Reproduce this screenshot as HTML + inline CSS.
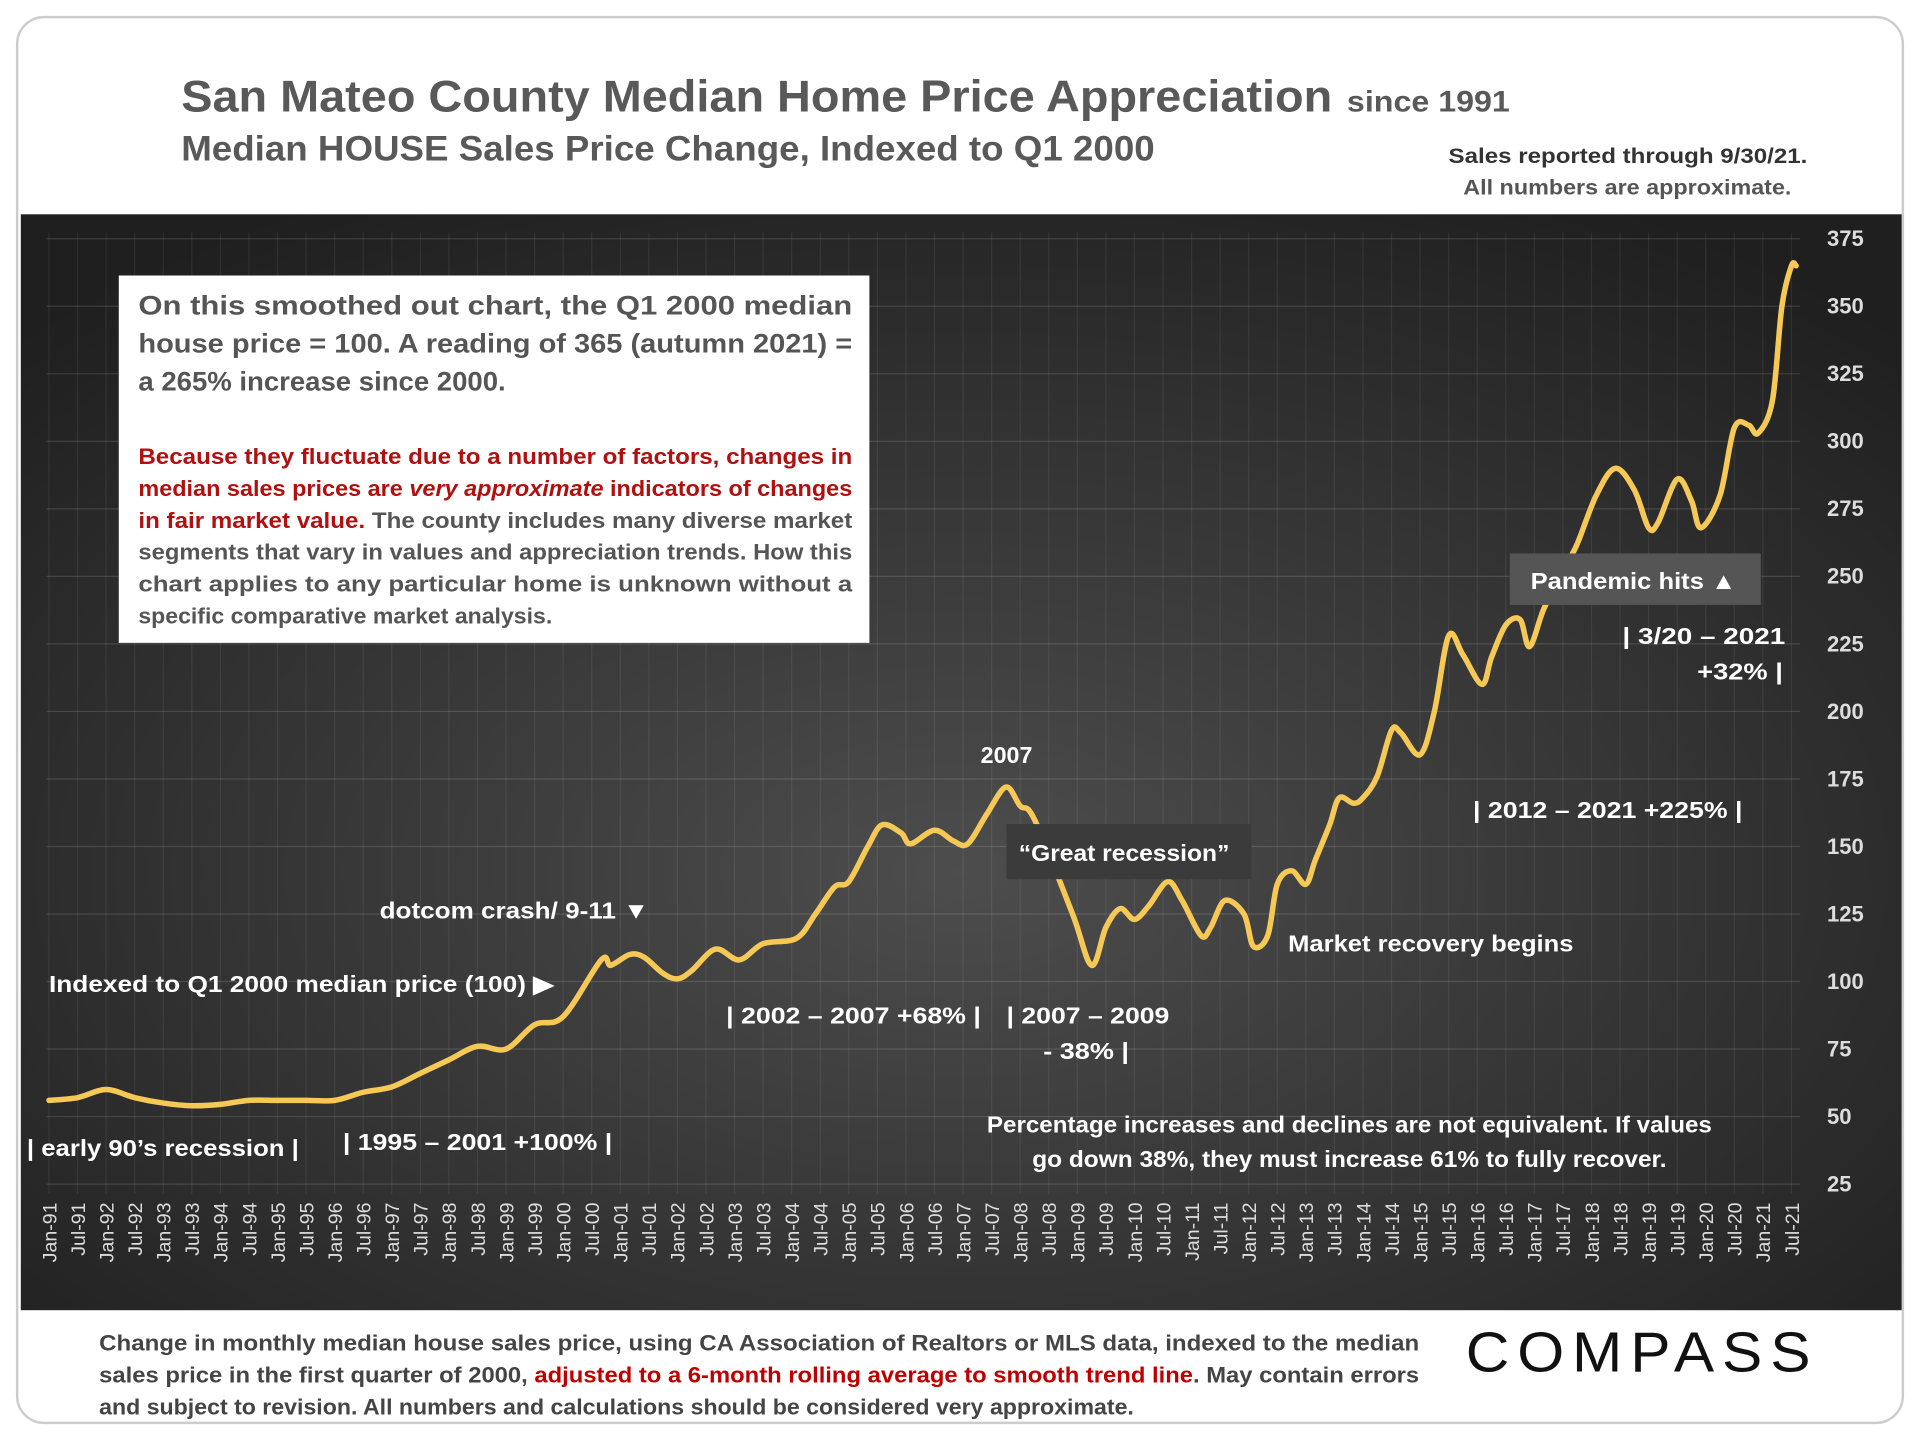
<!DOCTYPE html>
<html><head><meta charset="utf-8"><style>
html,body{margin:0;padding:0;background:#fff;}
svg{display:block;}
text{font-family:"Liberation Sans",sans-serif;font-weight:bold;}
</style></head><body>
<svg id="chart" width="1920" height="1440" viewBox="0 0 1568 1176" xmlns="http://www.w3.org/2000/svg">
<defs>
<radialGradient id="bg" cx="0.5" cy="0.6" r="0.7">
<stop offset="0" stop-color="#4d4d4d"/><stop offset="1" stop-color="#1f1f1f"/>
</radialGradient>
</defs>
<rect x="14" y="14" width="1540" height="1148" rx="22" fill="#fff" stroke="#ccc" stroke-width="2"/>
<text x="148" y="91" font-size="36" fill="#595959" textLength="940" lengthAdjust="spacingAndGlyphs">San Mateo County Median Home Price Appreciation</text>
<text x="1100" y="91" font-size="24" fill="#595959" textLength="133" lengthAdjust="spacingAndGlyphs">since 1991</text>
<text x="148" y="131" font-size="29" fill="#595959" textLength="795" lengthAdjust="spacingAndGlyphs">Median HOUSE Sales Price Change, Indexed to Q1 2000</text>
<text x="1476" y="133" font-size="17" fill="#333" text-anchor="end" textLength="293" lengthAdjust="spacingAndGlyphs">Sales reported through 9/30/21.</text>
<text x="1463" y="159" font-size="17" fill="#555" text-anchor="end" textLength="268" lengthAdjust="spacingAndGlyphs">All numbers are approximate.</text>
<rect x="17" y="175" width="1536" height="895" fill="url(#bg)"/>
<g id="grid"></g>
<g id="xlabels"></g>
<g id="ylabels"></g>
<path id="line" fill="none" stroke="#f6c957" stroke-width="4.5" stroke-linejoin="round" stroke-linecap="round"/>

<rect x="97" y="225" width="613" height="300" fill="#fff"/>
<g font-size="22" fill="#555">
<text x="113" y="257" textLength="583" lengthAdjust="spacingAndGlyphs">On this smoothed out chart, the Q1 2000 median</text>
<text x="113" y="288" textLength="583" lengthAdjust="spacingAndGlyphs">house price = 100. A reading of 365 (autumn 2021) =</text>
<text x="113" y="319" textLength="300" lengthAdjust="spacingAndGlyphs">a 265% increase since 2000.</text>
</g>
<g font-size="18">
<text x="113" y="379" fill="#b01010" textLength="583" lengthAdjust="spacingAndGlyphs">Because they fluctuate due to a number of factors, changes in</text>
<text x="113" y="405" fill="#b01010" textLength="583" lengthAdjust="spacingAndGlyphs">median sales prices are <tspan font-style="italic">very approximate</tspan> indicators of changes</text>
<text x="113" y="431" fill="#b01010" textLength="583" lengthAdjust="spacingAndGlyphs">in fair market value. <tspan fill="#555">The county includes many diverse market</tspan></text>
<text x="113" y="457" fill="#555" textLength="583" lengthAdjust="spacingAndGlyphs">segments that vary in values and appreciation trends. How this</text>
<text x="113" y="483" fill="#555" textLength="583" lengthAdjust="spacingAndGlyphs">chart applies to any particular home is unknown without a</text>
<text x="113" y="509" fill="#555" textLength="338" lengthAdjust="spacingAndGlyphs">specific comparative market analysis.</text>
</g>

<rect x="822" y="673" width="200" height="45" fill="#3b3b3b"/>
<rect x="1233" y="452" width="205" height="42" fill="#555"/>
<g font-size="19" fill="#fff">
<text x="918" y="703" text-anchor="middle" textLength="172" lengthAdjust="spacingAndGlyphs">“Great recession”</text>
<text x="1250" y="481" textLength="168" lengthAdjust="spacingAndGlyphs">Pandemic hits ▲</text>
<text x="822" y="623" text-anchor="middle">2007</text>
<text x="310" y="750" textLength="220" lengthAdjust="spacingAndGlyphs">dotcom crash/ 9-11 ▼</text>
<text x="40" y="810" textLength="412" lengthAdjust="spacingAndGlyphs">Indexed to Q1 2000 median price (100) ▶</text>
<text x="22" y="944" textLength="222" lengthAdjust="spacingAndGlyphs">| early 90’s recession |</text>
<text x="280" y="939" textLength="220" lengthAdjust="spacingAndGlyphs">| 1995 – 2001 +100% |</text>
<text x="593" y="836" textLength="208" lengthAdjust="spacingAndGlyphs">| 2002 – 2007 +68% |</text>
<text x="822" y="836" textLength="133" lengthAdjust="spacingAndGlyphs">| 2007 – 2009</text>
<text x="852" y="865" textLength="70" lengthAdjust="spacingAndGlyphs">- 38% |</text>
<text x="1052" y="777" textLength="233" lengthAdjust="spacingAndGlyphs">Market recovery begins</text>
<text x="1203" y="668" textLength="220" lengthAdjust="spacingAndGlyphs">| 2012 – 2021 +225% |</text>
<text x="1325" y="526" textLength="133" lengthAdjust="spacingAndGlyphs">| 3/20 – 2021</text>
<text x="1386" y="555" textLength="70" lengthAdjust="spacingAndGlyphs">+32% |</text>
<text x="1102" y="925" text-anchor="middle" textLength="592" lengthAdjust="spacingAndGlyphs">Percentage increases and declines are not equivalent. If values</text>
<text x="1102" y="953" text-anchor="middle" textLength="518" lengthAdjust="spacingAndGlyphs">go down 38%, they must increase 61% to fully recover.</text>
</g>

<g font-size="18" fill="#444">
<text x="81" y="1103" textLength="1078" lengthAdjust="spacingAndGlyphs">Change in monthly median house sales price, using CA Association of Realtors or MLS data, indexed to the median</text>
<text x="81" y="1129" textLength="1078" lengthAdjust="spacingAndGlyphs">sales price in the first quarter of 2000, <tspan fill="#c00000">adjusted to a 6-month rolling average to smooth trend line</tspan>.  May contain errors</text>
<text x="81" y="1155" textLength="845" lengthAdjust="spacingAndGlyphs">and subject to revision. All numbers and calculations should be considered very approximate.</text>
</g>
<text x="1197" y="1120" font-size="46" fill="#111" font-weight="normal" textLength="288" lengthAdjust="spacingAndGlyphs" style="font-weight:normal;letter-spacing:6px">COMPASS</text>
</svg>
<script>
const months = [0,6,12,18,24,30,36,42,48,54,60,66,72,78,84,90,96,102,108,116,118,122,125,129,132,135,140,145,150,157,161,165,168,172,175,179,181,186,190,193,197,201,204,207,215,219,222,225,228,231,235,238,242,244,247,251,253,256,258,261,264,266,269,271,274,276,279,282,284,288,291,294,297,301,303,306,309,311,314,318,321,325,329,333,336,338,342,345,347,351,354,357,359,362,364,366,367];
const values = [56,57,60,57,55,54,54.5,56,56,56,56,59,61,66,71,76,75,84,87,108,106,110,109,103,101,104,112,108,114,116,125,135,137,150,158,155,151,156,152,151,162,172,165,160,125,106,120,127,123,128,137,130,117,120,130,125,113,117,136,141,136,145,158,168,166,168,176,193,192,184,200,228,221,210,220,232,234,224,238,252,262,280,290,282,268,270,286,278,268,280,305,306,303,315,350,365,365];
const yTicks = [25,50,75,100,125,150,175,200,225,250,275,300,325,350,375];
const NS = "http://www.w3.org/2000/svg";
function xS(m){return 40 + m*(1463-40)/366;}
function yS(v){return 967 - (v-25)*(772/350);}
const grid = document.getElementById('grid');
const xl = document.getElementById('xlabels');
const yl = document.getElementById('ylabels');
for (const t of yTicks){
  const ln = document.createElementNS(NS,'line');
  
  
  ln.setAttribute('x1',38);ln.setAttribute('x2',1470);
  ln.setAttribute('y1',yS(t));ln.setAttribute('y2',yS(t));
  ln.setAttribute('stroke','rgba(255,255,255,0.13)');ln.setAttribute('stroke-width','1');
  grid.appendChild(ln);
  const tx = document.createElementNS(NS,'text');
  
  
  tx.setAttribute('x',1492);tx.setAttribute('y',yS(t)+6);
  tx.setAttribute('font-size','18');tx.setAttribute('fill','#ddd');
  tx.textContent = t;
  yl.appendChild(tx);
}
for (let m=0;m<=366;m+=6){
  const yr = (91 + Math.floor(m/12))%100;
  const lab = (m%12===0?'Jan-':'Jul-') + String(yr).padStart(2,'0');
  const ln = document.createElementNS(NS,'line');
  
  
  ln.setAttribute('x1',xS(m));ln.setAttribute('x2',xS(m));
  ln.setAttribute('y1',190);ln.setAttribute('y2',975);
  ln.setAttribute('stroke','rgba(255,255,255,0.07)');ln.setAttribute('stroke-width','1');
  grid.appendChild(ln);
  const tx = document.createElementNS(NS,'text');
  
  
  const x = xS(m)+6, y = 982;
  tx.setAttribute('x',x);tx.setAttribute('y',y);
  tx.setAttribute('transform','rotate(-90 '+x+' '+y+')');
  tx.setAttribute('text-anchor','end');
  tx.setAttribute('font-size','16');tx.setAttribute('fill','#ddd');
  tx.setAttribute('style','font-weight:normal');
  tx.textContent = lab;
  xl.appendChild(tx);
}
const pts = months.map((m,i)=>[xS(m),yS(values[i])]);
let d = 'M'+pts[0][0]+','+pts[0][1];
for (let i=0;i<pts.length-1;i++){
  const p0=pts[Math.max(0,i-1)],p1=pts[i],p2=pts[i+1],p3=pts[Math.min(pts.length-1,i+2)];
  const c1=[p1[0]+(p2[0]-p0[0])/6,p1[1]+(p2[1]-p0[1])/6];
  const c2=[p2[0]-(p3[0]-p1[0])/6,p2[1]-(p3[1]-p1[1])/6];
  d+=' C'+c1[0]+','+c1[1]+' '+c2[0]+','+c2[1]+' '+p2[0]+','+p2[1];
}
document.getElementById('line').setAttribute('d',d);
</script>
</body></html>
